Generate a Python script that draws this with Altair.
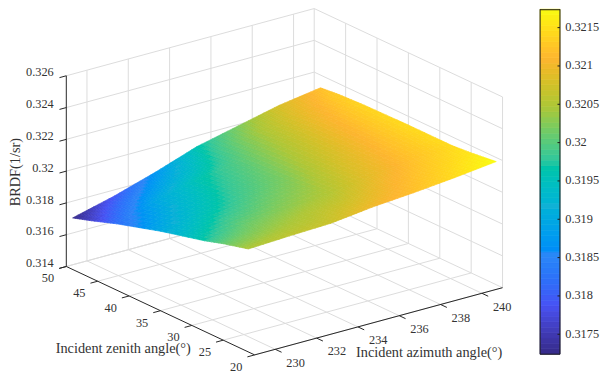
import altair as alt
import pandas as pd

# ---------- data ----------
azimuth = [229, 231, 233, 235, 237, 239, 241]
zenith = [49, 46, 42, 35, 28, 25, 21]
brdf_z49 = [0.31724, 0.3179, 0.3187, 0.3196, 0.3202, 0.3208, 0.3212]
brdf_z46 = [0.31762, 0.3184, 0.3191, 0.3198, 0.3204, 0.3209, 0.32132]
brdf_z42 = [0.31817, 0.3190, 0.3196, 0.3200, 0.3205, 0.3210, 0.3214]
brdf_z35 = [0.3190, 0.3195, 0.3199, 0.3202, 0.3207, 0.3211, 0.32145]
brdf_z28 = [0.3197, 0.3201, 0.3203, 0.3205, 0.3209, 0.3212, 0.32145]
brdf_z25 = [0.32007, 0.3203, 0.3205, 0.3207, 0.32105, 0.3213, 0.32155]
brdf_z21 = [0.32048, 0.3206, 0.32069, 0.3210, 0.3212, 0.32145, 0.32175]
brdf_rows = [brdf_z49, brdf_z46, brdf_z42, brdf_z35, brdf_z28, brdf_z25, brdf_z21]

az_ticks = [230, 232, 234, 236, 238, 240]
zen_ticks = [20, 25, 30, 35, 40, 45, 50]
z_ticks = [0.314, 0.316, 0.318, 0.32, 0.322, 0.324, 0.326]
z_tick_labels = ["0.314", "0.316", "0.318", "0.32", "0.322", "0.324", "0.326"]
cb_ticks = [0.3175, 0.318, 0.3185, 0.319, 0.3195, 0.32, 0.3205, 0.321, 0.3215]
cb_labels = ["0.3175", "0.318", "0.3185", "0.319", "0.3195", "0.32", "0.3205", "0.321", "0.3215"]
parula = ["#352a87", "#4752f4", "#2d87f7", "#12b1d6", "#37c897", "#abc739", "#fdb52f", "#f9fb14"]
C_MIN, C_MAX = 0.31724, 0.32174

W, H = 596, 366
FONT = "Liberation Serif"
TEXT = "#333333"
AXIS = "#262626"
GRID = "#dcdcdc"
AZ0, AZ1, ZEN0, ZEN1, Z0, Z1 = 229, 241, 20, 50, 0.314, 0.326


def project(az, zen, z):
    """Orthographic view of the 3-D box (azimuth, zenith, BRDF) on the page."""
    px = 58.7 + (az - AZ0) * 20.8 + (ZEN1 - zen) * 6.32
    py = 259.0 - (az - AZ0) * 5.64 + (ZEN1 - zen) * 2.967 - (z - Z0) * 16000
    return px, py


sx = alt.Scale(domain=[0, W], range=[0, W], nice=False, zero=False)
sy = alt.Scale(domain=[0, H], range=[0, H], nice=False, zero=False)
stops = [C_MIN + (C_MAX - C_MIN) * i / (len(parula) - 1) for i in range(len(parula))]
col_scale = alt.Scale(domain=stops, range=parula, clamp=True)


def X(f="x"):
    return alt.X(f"{f}:Q", scale=sx, axis=None)


def Y(f="y"):
    return alt.Y(f"{f}:Q", scale=sy, axis=None)


def segs(pairs, color, width=1.0):
    rows = []
    for a, b in pairs:
        rows.append({"x": a[0], "y": a[1], "x2": b[0], "y2": b[1]})
    return alt.Chart(pd.DataFrame(rows)).mark_rule(color=color, strokeWidth=width).encode(
        x=X(), y=Y(), x2="x2:Q", y2="y2:Q"
    )


# grid on floor and the two back walls
grid = []
for a in az_ticks:
    grid.append((project(a, ZEN1, Z0), project(a, ZEN0, Z0)))
    grid.append((project(a, ZEN1, Z0), project(a, ZEN1, Z1)))
for g in zen_ticks:
    grid.append((project(AZ0, g, Z0), project(AZ1, g, Z0)))
    grid.append((project(AZ1, g, Z0), project(AZ1, g, Z1)))
for z in z_ticks:
    grid.append((project(AZ0, ZEN1, z), project(AZ1, ZEN1, z)))
    grid.append((project(AZ1, ZEN1, z), project(AZ1, ZEN0, z)))
grid_layer = segs(grid, GRID)

# axis lines and ticks
ax = [
    (project(AZ0, ZEN1, Z0), project(AZ0, ZEN1, Z1)),
    (project(AZ0, ZEN1, Z0), project(AZ0, ZEN0, Z0)),
    (project(AZ0, ZEN0, Z0), project(AZ1, ZEN0, Z0)),
]
for a in az_ticks:
    ax.append((project(a, ZEN0, Z0), project(a, ZEN0 - 1.0, Z0)))
for g in zen_ticks:
    ax.append((project(AZ0, g, Z0), project(AZ0 - 0.35, g, Z0)))
for z in z_ticks:
    ax.append((project(AZ0, ZEN1, z), project(AZ0 - 0.33, ZEN1, z)))
axis_layer = segs(ax, AXIS)

# surface: each read-off cell is split in small facets to imitate interpolated shading
N = 8
features = []
for i in range(len(zenith) - 1):
    for j in range(len(azimuth) - 1):
        q = (brdf_rows[i][j], brdf_rows[i][j + 1], brdf_rows[i + 1][j], brdf_rows[i + 1][j + 1])
        def corner(u, v):
            a = azimuth[j] + (azimuth[j + 1] - azimuth[j]) * u
            g = zenith[i] + (zenith[i + 1] - zenith[i]) * v
            z = (q[0] * (1 - u) + q[1] * u) * (1 - v) + (q[2] * (1 - u) + q[3] * u) * v
            return a, g, z
        for m in range(N):
            for n in range(N):
                cs = [corner(m / N, n / N), corner((m + 1) / N, n / N),
                      corner((m + 1) / N, (n + 1) / N), corner(m / N, (n + 1) / N)]
                pts = [list(project(*c)) for c in cs]
                pts.append(pts[0])
                features.append({
                    "type": "Feature",
                    "geometry": {"type": "Polygon", "coordinates": [pts]},
                    "properties": {"z": sum(c[2] for c in cs) / 4},
                })
surface = alt.Chart(alt.Data(values=features)).mark_geoshape(strokeWidth=0.7).encode(
    fill=alt.Fill("properties.z:Q", scale=col_scale, legend=None),
    stroke=alt.Stroke("properties.z:Q", scale=col_scale, legend=None),
).project(type="identity", scale=1, translate=[0, 0])


def labels(rows, size=12.4, align="center", angle=0):
    return alt.Chart(pd.DataFrame(rows)).mark_text(
        font=FONT, fontSize=size, color=TEXT, align=align, baseline="middle", angle=angle
    ).encode(x=X(), y=Y(), text="t:N")


z_lab = []
for z, t in zip(z_ticks, z_tick_labels):
    p = project(AZ0, ZEN1, z)
    z_lab.append({"x": p[0] - 12.7, "y": p[1] - 3.3, "t": t})
zen_lab = []
for g in zen_ticks:
    p = project(AZ0, g, Z0)
    zen_lab.append({"x": p[0] - 18.5, "y": p[1] + 12, "t": str(g)})
az_lab = []
for a in az_ticks:
    p = project(a, ZEN0, Z0)
    az_lab.append({"x": p[0] + 20.4, "y": p[1] + 13.5, "t": str(a)})

titles = [
    labels([{"x": 116, "y": 342.3, "t": "Incident zenith angle(°)"}], size=14.4),
    labels([{"x": 424, "y": 345.7, "t": "Incident azimuth angle(°)"}], size=14.4),
    labels([{"x": 8.5, "y": 164, "t": "BRDF(1/sr)"}], size=14.4, angle=270),
]

# colour bar
BAR_L, BAR_R = 535.7, 555.7
BAR_TOP, BAR_BOT = 0.0, 347.3


def bar_y(v):
    return BAR_BOT + (v - C_MIN) / (C_MAX - C_MIN) * (BAR_TOP - BAR_BOT)


LEVELS = 64
bar_rows = []
for k in range(LEVELS):
    lo = C_MIN + (C_MAX - C_MIN) * k / LEVELS
    hi = C_MIN + (C_MAX - C_MIN) * (k + 1) / LEVELS
    bar_rows.append({"x": BAR_L, "x2": BAR_R, "y": bar_y(lo), "y2": bar_y(hi), "v": (lo + hi) / 2})
bar = alt.Chart(pd.DataFrame(bar_rows)).mark_rect(strokeWidth=0.7).encode(
    x=X(), x2="x2:Q", y=Y(), y2="y2:Q",
    fill=alt.Fill("v:Q", scale=col_scale, legend=None),
    stroke=alt.Stroke("v:Q", scale=col_scale, legend=None),
)
frame = [
    ((BAR_L, BAR_TOP + 0.5), (BAR_R, BAR_TOP + 0.5)),
    ((BAR_L, BAR_BOT), (BAR_R, BAR_BOT)),
    ((BAR_L, BAR_TOP), (BAR_L, BAR_BOT)),
    ((BAR_R, BAR_TOP), (BAR_R, BAR_BOT)),
]
for v in cb_ticks:
    frame.append(((BAR_R - 2.5, bar_y(v)), (BAR_R, bar_y(v))))
frame_layer = segs(frame, "#1a1a1a")
cb_lab = labels(
    [{"x": 561, "y": bar_y(v) - 0.5, "t": t} for v, t in zip(cb_ticks, cb_labels)],
    align="left",
)

chart = alt.layer(
    grid_layer, axis_layer, surface,
    labels(z_lab, align="right"), labels(zen_lab), labels(az_lab),
    *titles, bar, frame_layer, cb_lab,
).resolve_scale(fill="independent", stroke="independent", color="independent").properties(
    width=W, height=H, padding=0, autosize=alt.AutoSizeParams(type="none")
).configure_view(stroke=None)

chart.save("out.html", embed_options={"renderer": "svg", "actions": False})
